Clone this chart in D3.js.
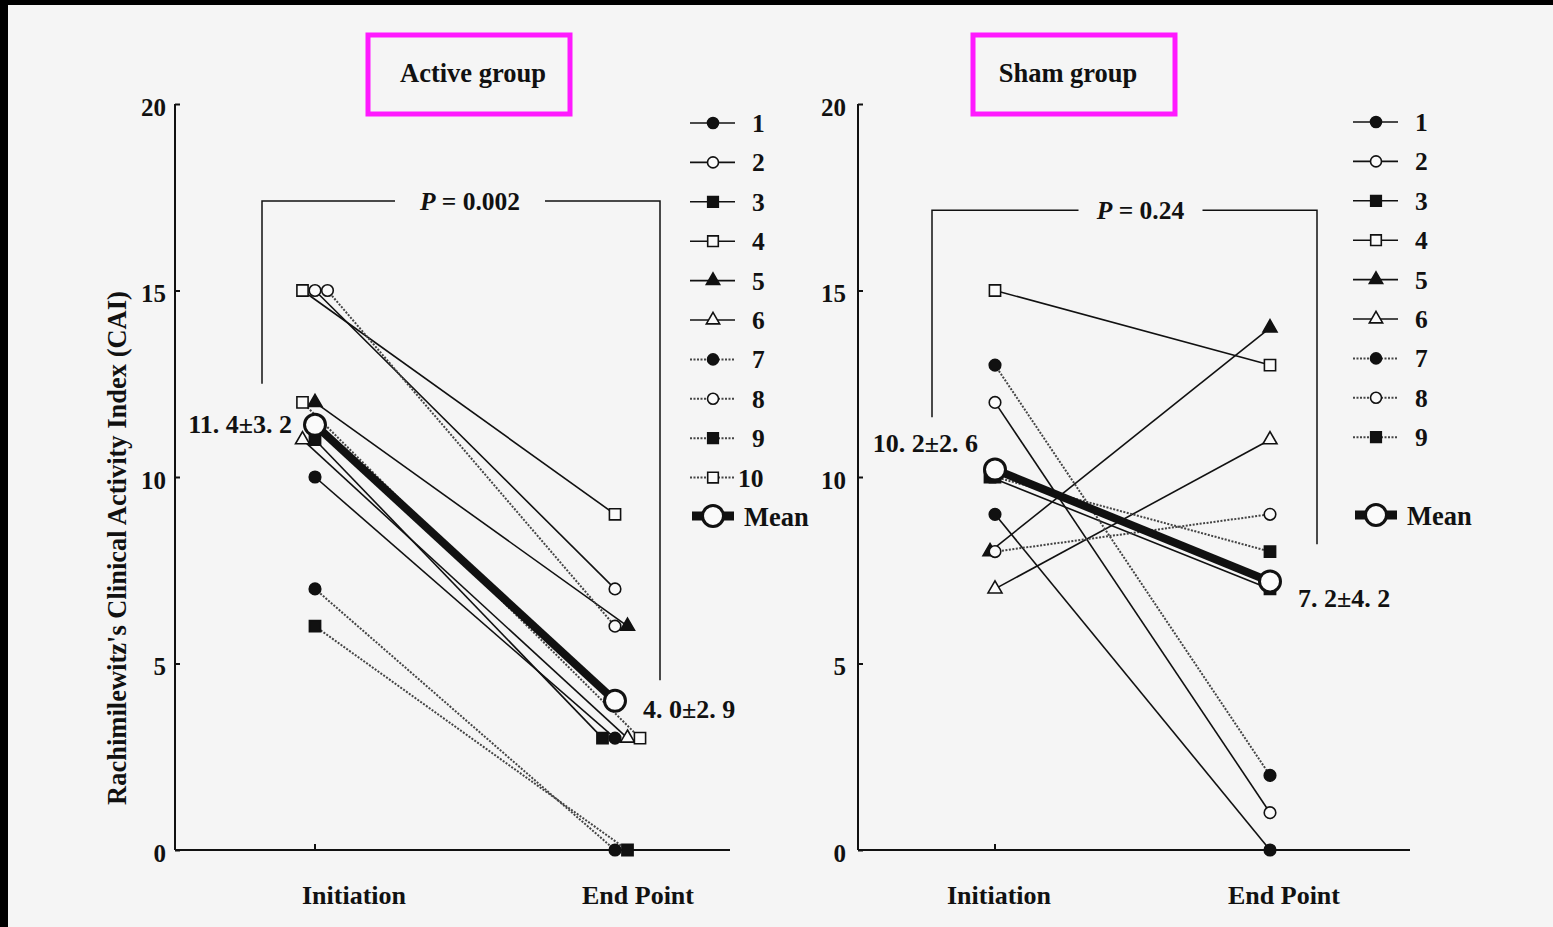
<!DOCTYPE html>
<meta charset="utf-8">
<style>
body { margin: 0; background: #000; }
svg { display: block; }
text { font-family: "Liberation Serif", "Times New Roman", serif; font-weight: bold; fill: #111; }
.axis path, .axis line { stroke: #111; stroke-width: 2px; }
.axis text { font-size: 25px; font-family: "Liberation Serif", serif; font-weight: bold; }
.patient { stroke: #111; stroke-width: 1.6px; fill: none; }
.patient.dotted { stroke: #444; stroke-dasharray: 2 1.5; stroke-width: 2px; }
.bracket { stroke: #111; stroke-width: 1.5px; fill: none; }
</style>
<svg width="1553" height="927"></svg>
<script src="https://cdn.jsdelivr.net/npm/d3@7"></script>
<script>

// data
var timepoints = ["Initiation", "End Point"];
var activePatients = ["1", "2", "3", "4", "5", "6", "7", "8", "9", "10"];
var activeStart = [10, 15, 11, 15, 12, 11, 7, 15, 6, 12];
var activeEnd   = [3, 7, 3, 9, 6, 3, 0, 6, 0, 3];
var activeMean  = [11.4, 4.0];
var activeMeanLabels = ["11. 4\u00b13. 2", "4. 0\u00b12. 9"];
var activeP = "0.002";

var shamPatients = ["1", "2", "3", "4", "5", "6", "7", "8", "9"];
var shamStart = [9, 12, 10, 15, 8, 7, 13, 8, 10];
var shamEnd   = [0, 1, 7, 13, 14, 11, 2, 9, 8];
var shamMean  = [10.2, 7.2];
var shamMeanLabels = ["10. 2\u00b12. 6", "7. 2\u00b14. 2"];
var shamP = "0.24";

var yTicks = [0, 5, 10, 15, 20];

// marker style per patient number: shape, filled, dotted line
var shapes = [d3.symbolCircle, d3.symbolCircle, d3.symbolSquare, d3.symbolSquare, d3.symbolTriangle,
              d3.symbolTriangle, d3.symbolCircle, d3.symbolCircle, d3.symbolSquare, d3.symbolSquare];
var filled = [true, false, true, false, true, false, true, false, true, false];
function symSize(i) {
  var s = shapes[i];
  if (s === d3.symbolSquare) return 125;
  if (s === d3.symbolTriangle) return 85;
  return 105;
}

var svg = d3.select("svg");

svg.append("rect").attr("x", 8).attr("y", 5).attr("width", 1545).attr("height", 922).attr("fill", "#f5f5f5");

var y = d3.scaleLinear().domain([0, 20]).range([850, 104]);

function drawPanel(cfg) {
  var x = d3.scalePoint().domain(timepoints).range(cfg.xr);
  var g = svg.append("g");

  // title box
  g.append("rect")
      .attr("x", cfg.box[0]).attr("y", 35).attr("width", 202).attr("height", 79)
      .attr("fill", "none").attr("stroke", "#ff1aff").attr("stroke-width", 5);
  g.append("text")
      .attr("x", cfg.box[0] + 101 + cfg.titleDx).attr("y", 82)
      .attr("text-anchor", "middle").style("font-size", "26.5px")
      .text(cfg.title);

  // y axis
  var yAxis = g.append("g").attr("class", "axis")
      .attr("transform", "translate(" + cfg.axisX + ",0)")
      .call(d3.axisLeft(y).tickValues(yTicks).tickSize(-5).tickSizeOuter(0).tickPadding(cfg.tickPad));
  yAxis.select(".domain").attr("d", "M0," + y(20) + "V" + y(0));
  yAxis.selectAll("text").attr("dy", "0.45em");

  // x axis
  var xa = g.append("g").attr("class", "axis");
  xa.append("line").attr("x1", cfg.axisX).attr("x2", cfg.axisEnd).attr("y1", y(0)).attr("y2", y(0));
  xa.selectAll(".tk").data(timepoints).enter().append("line")
      .attr("x1", function(d) { return x(d); }).attr("x2", function(d) { return x(d); })
      .attr("y1", y(0)).attr("y2", y(0) - 6);
  xa.selectAll(".lb").data(timepoints).enter().append("text")
      .attr("x", function(d, i) { return x(d) + cfg.labelDx[i]; })
      .attr("y", 904)
      .attr("text-anchor", "middle")
      .style("font-size", "26px")
      .text(function(d) { return d; });

  // bracket with P value
  var bx0 = x(timepoints[0]) + cfg.bracketDx[0], bx1 = x(timepoints[1]) + cfg.bracketDx[1];
  var top = y(cfg.bracketY[0]);
  var mid = (bx0 + bx1) / 2 + cfg.pDx;
  g.append("path").attr("class", "bracket")
      .attr("d", "M" + bx0 + "," + y(cfg.bracketY[1]) + "V" + top + "H" + (mid - cfg.pGap) +
                 "M" + (mid + cfg.pGap) + "," + top + "H" + bx1 + "V" + y(cfg.bracketY[2]));
  var pt = g.append("text").attr("x", mid).attr("y", top + 9)
      .attr("text-anchor", "middle").style("font-size", "25.5px");
  pt.append("tspan").style("font-style", "italic").text("P");
  pt.append("tspan").text(" = " + cfg.p);

  // spread points that share a value at the same time point
  var pts = [];
  [cfg.start, cfg.end].forEach(function(vals, t) {
    var order = cfg.tieOrder[t];
    vals.forEach(function(v, i) {
      var same = vals.map(function(w, j) { return j; })
          .filter(function(j) { return vals[j] === v; })
          .sort(function(a, b) { return order.indexOf(a + 1) - order.indexOf(b + 1); });
      var k = same.indexOf(i);
      var first = (t === 0 || same.length > 2) ? -1 : 0;
      var off = same.length > 1 ? (k + first) * cfg.spread : 0;
      pts.push({ i: i, t: t, v: v, px: x(timepoints[t]) + off, py: y(v) });
    });
  });
  function pos(i, t) { return pts.filter(function(p) { return p.i === i && p.t === t; })[0]; }

  g.selectAll(".patient").data(cfg.start).enter().append("line")
      .attr("class", function(d, i) { return i >= 6 ? "patient dotted" : "patient"; })
      .attr("x1", function(d, i) { return pos(i, 0).px; })
      .attr("y1", function(d, i) { return pos(i, 0).py; })
      .attr("x2", function(d, i) { return pos(i, 1).px; })
      .attr("y2", function(d, i) { return pos(i, 1).py; });

  g.selectAll(".mark").data(pts).enter().append("path")
      .attr("transform", function(d) { return "translate(" + d.px + "," + d.py + ")"; })
      .attr("d", function(d) { return d3.symbol(shapes[d.i], symSize(d.i))(); })
      .attr("fill", function(d) { return filled[d.i] ? "#111" : "#fafafa"; })
      .attr("stroke", "#111").attr("stroke-width", 1.6);

  // mean line
  g.append("line")
      .attr("x1", x(timepoints[0])).attr("y1", y(cfg.mean[0]))
      .attr("x2", x(timepoints[1])).attr("y2", y(cfg.mean[1]))
      .attr("stroke", "#111").attr("stroke-width", 8);
  g.selectAll(".mean").data(cfg.mean).enter().append("circle")
      .attr("cx", function(d, i) { return x(timepoints[i]); })
      .attr("cy", function(d) { return y(d); })
      .attr("r", 10.5)
      .attr("fill", "#fafafa").attr("stroke", "#111").attr("stroke-width", 3);
  g.selectAll(".meanlab").data(cfg.meanLabels).enter().append("text")
      .attr("x", function(d, i) { return x(timepoints[i]) + cfg.meanDx[i]; })
      .attr("y", function(d, i) { return y(cfg.mean[i]) + cfg.meanDy[i]; })
      .attr("text-anchor", function(d, i) { return i === 0 ? "end" : "start"; })
      .style("font-size", "26px")
      .text(function(d) { return d; });

  // legend
  var lg = g.append("g").attr("transform", "translate(" + cfg.legendX + ",0)");
  var row = lg.selectAll(".row").data(cfg.names).enter().append("g")
      .attr("transform", function(d, i) { return "translate(0," + (cfg.legendY + i * 39.4) + ")"; });
  row.append("line")
      .attr("class", function(d, i) { return i >= 6 ? "patient dotted" : "patient"; })
      .attr("x1", 0).attr("x2", 45);
  row.append("path")
      .attr("transform", "translate(23,0)")
      .attr("d", function(d, i) { return d3.symbol(shapes[i], symSize(i) * 0.9)(); })
      .attr("fill", function(d, i) { return filled[i] ? "#111" : "#fafafa"; })
      .attr("stroke", "#111").attr("stroke-width", 1.6);
  row.append("text")
      .attr("x", function(d) { return d.length > 1 ? 48 : 62; }).attr("y", 9)
      .style("font-size", "25.5px")
      .text(function(d) { return d; });

  var mg = lg.append("g").attr("transform", "translate(0," + cfg.meanLegendY + ")");
  mg.append("line").attr("x1", 2).attr("x2", 44).attr("stroke", "#111").attr("stroke-width", 9);
  mg.append("circle").attr("cx", 23).attr("r", 10.5)
      .attr("fill", "#fafafa").attr("stroke", "#111").attr("stroke-width", 3);
  mg.append("text").attr("x", 54).attr("y", 10).style("font-size", "26.5px").text("Mean");
}

drawPanel({
  title: "Active group", box: [368], titleDx: 4,
  xr: [315, 615], axisX: 175, axisEnd: 730, tickPad: 9,
  labelDx: [39, 23],
  bracketDx: [-53, 45], bracketY: [17.4, 12.5, 4.55], pDx: 9, pGap: 75, p: activeP,
  tieOrder: [[4, 2, 8, 10, 5, 6, 3, 1, 7, 9], [3, 1, 6, 10, 7, 9, 8, 5, 2, 4]], spread: 12.5,
  start: activeStart, end: activeEnd, mean: activeMean, meanLabels: activeMeanLabels,
  meanDx: [-23, 28], meanDy: [8, 17],
  names: activePatients, legendX: 690, legendY: 123, meanLegendY: 516
});

drawPanel({
  title: "Sham group", box: [973], titleDx: -6,
  xr: [995, 1270], axisX: 858, axisEnd: 1410, tickPad: 12,
  labelDx: [4, 14],
  bracketDx: [-63, 47], bracketY: [17.15, 11.6, 8.2], pDx: 16, pGap: 62, p: shamP,
  tieOrder: [[5, 8, 3, 9, 1, 2, 4, 6, 7], [1, 2, 3, 4, 5, 6, 7, 8, 9]], spread: 5,
  start: shamStart, end: shamEnd, mean: shamMean, meanLabels: shamMeanLabels,
  meanDx: [-17, 28], meanDy: [-18, 26],
  names: shamPatients, legendX: 1353, legendY: 122, meanLegendY: 515
});

// y axis title
svg.append("text")
    .attr("transform", "translate(126,548) rotate(-90)")
    .attr("text-anchor", "middle")
    .style("font-size", "26.5px")
    .text("Rachimilewitz's Clinical Activity Index (CAI)");

</script>
